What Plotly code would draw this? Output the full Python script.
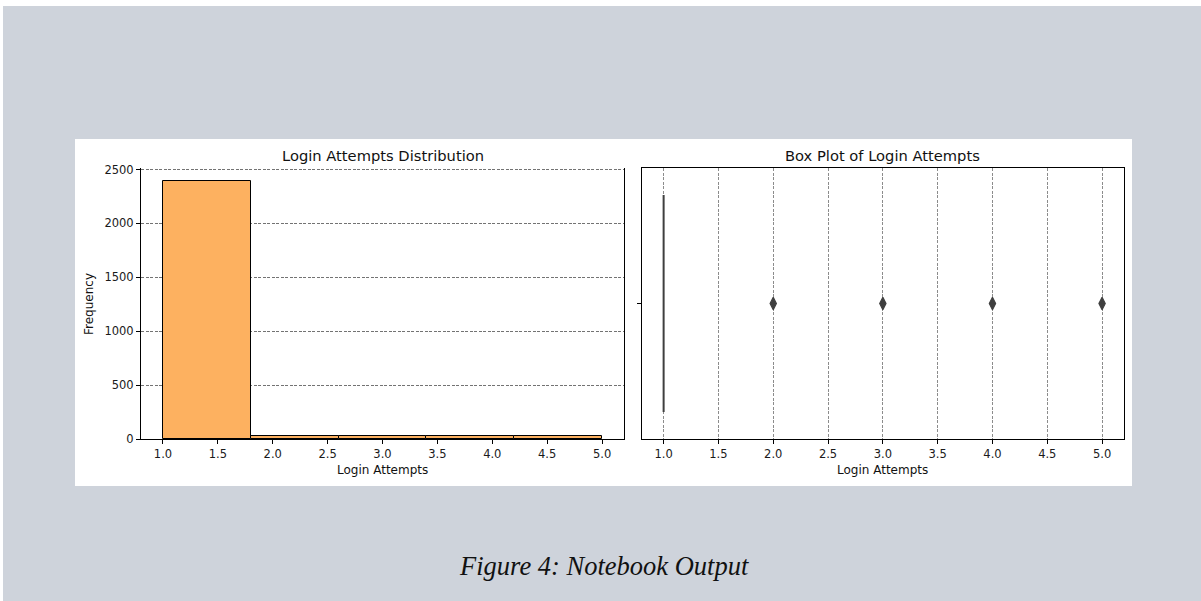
import plotly.graph_objects as go

# ---- data ----
bin_edges = [1.0, 1.8, 2.6, 3.4, 4.2, 5.0]
bin_counts = [2390, 32, 32, 32, 32]
box_q1 = [1.0]
box_median = [1.0]
box_q3 = [1.0]
box_lowerfence = [1.0]
box_upperfence = [1.0]
box_outliers = [2.0, 3.0, 4.0, 5.0]
x_ticks = [1.0, 1.5, 2.0, 2.5, 3.0, 3.5, 4.0, 4.5, 5.0]
y_ticks = [0, 500, 1000, 1500, 2000, 2500]

OX, OY = 3, 6          # page offset of the figure (body margin)
W, H = 1201 - OX, 601 - OY
FONT = "DejaVu Sans"


def px(x):
    return (x - OX) / W


def py(y):
    return 1 - (y - OY) / H


bar_left = bin_edges[:-1]
bar_width = [b - a for a, b in zip(bin_edges[:-1], bin_edges[1:])]

fig = go.Figure()

fig.add_trace(go.Bar(
    x=bar_left, y=bin_counts, width=bar_width, offset=0,
    marker=dict(color="#FDB160", line=dict(color="black", width=1)),
    xaxis="x", yaxis="y", showlegend=False,
))

box_pos = 0
fig.add_trace(go.Box(
    q1=box_q1, median=box_median, q3=box_q3,
    lowerfence=box_lowerfence, upperfence=box_upperfence,
    y=[box_pos], orientation="h", width=0.8,
    line=dict(color="#3f3f3f", width=2), fillcolor="#3f3f3f",
    boxpoints=False, xaxis="x2", yaxis="y2", showlegend=False,
))
fig.add_trace(go.Scatter(
    x=box_outliers, y=[box_pos] * len(box_outliers), mode="markers",
    marker=dict(symbol="diamond-tall", size=9, color="#3f3f3f",
                line=dict(color="#3f3f3f", width=1.2)),
    xaxis="x2", yaxis="y2", showlegend=False,
))

grid_dash = "3px,1.5px"
grid_col = "rgba(0,0,0,0.45)"
tickfont = dict(family=FONT, size=11.5, color="#1a1a1a")

fig.update_layout(
    width=W, height=H,
    margin=dict(l=0, r=0, t=0, b=0, pad=0, autoexpand=False),
    paper_bgcolor="#CED3DB", plot_bgcolor="white",
    bargap=0, showlegend=False,
    xaxis=dict(domain=[px(141), px(624)], range=[0.8, 5.2], anchor="y", automargin=False,
               tickvals=x_ticks, tickformat=".1f", ticks="outside", ticklen=4,
               tickcolor="black", showline=True, linecolor="black", linewidth=1,
               mirror=False, showgrid=False, zeroline=False, tickfont=tickfont),
    yaxis=dict(domain=[py(439), py(168)], range=[0, 2514], anchor="x", automargin=False,
               tickvals=y_ticks, ticks="outside", ticklen=4, tickcolor="black",
               showline=True, linecolor="black", linewidth=1, mirror=True,
               showgrid=True, gridcolor="rgba(0,0,0,0.55)", gridwidth=1, griddash=grid_dash,
               zeroline=False, tickfont=tickfont),
    xaxis2=dict(domain=[px(641.7), px(1124)], range=[0.8, 5.2], anchor="y2", automargin=False,
                tickvals=x_ticks, tickformat=".1f", ticks="outside", ticklen=4,
                tickcolor="black", showline=True, linecolor="black", linewidth=1,
                mirror=True, showgrid=True, gridcolor=grid_col, gridwidth=0.8,
                griddash=grid_dash, zeroline=False, tickfont=tickfont),
    yaxis2=dict(domain=[py(439), py(168)], range=[-0.5, 0.5], anchor="x2", automargin=False,
                tickvals=[box_pos], ticktext=[""], ticks="outside", ticklen=4,
                tickcolor="black", showline=True, linecolor="black", linewidth=1,
                mirror=True, showgrid=False, zeroline=False),
    shapes=[
        dict(type="rect", xref="paper", yref="paper", x0=px(75), x1=px(1132),
             y0=py(486), y1=py(139), fillcolor="white", line=dict(width=0), layer="below"),
    ],
    annotations=[
        dict(text="Login Attempts Distribution", x=px(382.5), y=py(155), xref="paper", yref="paper",
             showarrow=False, font=dict(family=FONT, size=14.7, color="#111"),
             xanchor="center", yanchor="middle"),
        dict(text="Box Plot of Login Attempts", x=px(883), y=py(155), xref="paper", yref="paper",
             showarrow=False, font=dict(family=FONT, size=14.7, color="#111"),
             xanchor="center", yanchor="middle"),
        dict(text="Login Attempts", x=px(382.5), y=py(470), xref="paper", yref="paper",
             showarrow=False, font=dict(family=FONT, size=12, color="#111"),
             xanchor="center", yanchor="middle"),
        dict(text="Login Attempts", x=px(883), y=py(470), xref="paper", yref="paper",
             showarrow=False, font=dict(family=FONT, size=12, color="#111"),
             xanchor="center", yanchor="middle"),
        dict(text="Frequency", x=px(89), y=py(304), xref="paper", yref="paper",
             showarrow=False, textangle=-90, font=dict(family=FONT, size=12, color="#111"),
             xanchor="center", yanchor="middle"),
        dict(text="<i>Figure 4: Notebook Output</i>", x=px(603.5), y=py(566), xref="paper", yref="paper",
             showarrow=False, font=dict(family="Liberation Serif", size=26.5, color="#111"),
             xanchor="center", yanchor="middle"),
    ],
)

fig.write_html("out.html", post_script="document.body.style.margin='%dpx 0 0 %dpx';document.body.style.overflow='hidden';" % (OY, OX))
